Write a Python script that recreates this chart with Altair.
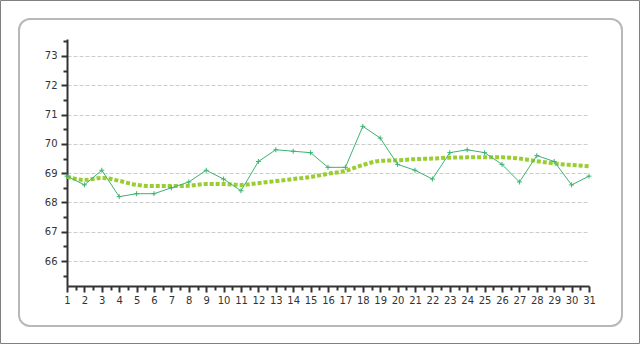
import altair as alt
import pandas as pd

days = list(range(1, 32))
values = [68.9, 68.6, 69.1, 68.2, 68.3, 68.3, 68.5, 68.7, 69.1, 68.8, 68.4, 69.4,
          69.8, 69.75, 69.7, 69.2, 69.2, 70.6, 70.2, 69.3, 69.1, 68.8, 69.7, 69.8,
          69.7, 69.3, 68.7, 69.6, 69.4, 68.6, 68.9]
trend = [68.88, 68.77, 68.84, 68.74, 68.6, 68.56, 68.56, 68.57, 68.63, 68.63, 68.6,
         68.66, 68.73, 68.8, 68.87, 68.98, 69.08, 69.28, 69.42, 69.44, 69.48, 69.5,
         69.53, 69.54, 69.54, 69.54, 69.5, 69.41, 69.33, 69.28, 69.24]
x_ticks = [1 + 0.5 * i for i in range(61)]
y_ticks = [65.5 + 0.5 * i for i in range(17)]

df = pd.DataFrame({"day": days, "value": values, "trend": trend})

FONT = "DejaVu Sans"
AX = "#333333"
major = "datum.value % 1 === 0"
lab = "datum.value % 1 === 0 ? format(datum.value, 'd') : ''"

x_scale = alt.Scale(domain=[1, 31], nice=False, zero=False)
y_scale = alt.Scale(domain=[65.15, 73.58], nice=False, zero=False)

x_axis = alt.Axis(
    values=x_ticks, tickCount=len(x_ticks) + 5, title=None, grid=False,
    labelExpr=lab,
    labelOverlap=False, labelFlush=False, labelFont=FONT, labelFontSize=10,
    labelColor=AX, labelPadding=3,
    domainColor=AX, domainWidth=2, tickColor=AX, tickWidth=2,
    tickSize={"condition": {"test": major, "value": 6}, "value": 4},
)
y_axis = alt.Axis(
    values=y_ticks, tickCount=len(y_ticks) + 5, title=None,
    labelExpr=lab,
    labelOverlap=False, labelFlush=False, labelFont=FONT, labelFontSize=10,
    labelColor=AX, labelPadding=4,
    domainColor=AX, domainWidth=2, tickColor=AX, tickWidth=2,
    tickSize={"condition": {"test": major, "value": 6}, "value": 4},
    grid=True, gridColor="#cccccc", gridDash=[4, 2], gridWidth=1,
    gridOpacity={"condition": {"test": major, "value": 1}, "value": 0},
)

one = pd.DataFrame({"a": [0]})
outer = alt.Chart(one).mark_rect(fillOpacity=0, stroke="#808080", strokeWidth=1).encode(
    x=alt.value(-66.5), x2=alt.value(572.5), y=alt.value(-38.5), y2=alt.value(304.5))
inner = alt.Chart(one).mark_rect(fillOpacity=0, stroke="#b8b8b8", strokeWidth=2,
                                 cornerRadius=11).encode(
    x=alt.value(-48), x2=alt.value(555), y=alt.value(-20), y2=alt.value(287))

base = alt.Chart(df)
trend_line = base.mark_line(color="#9acd32", strokeWidth=4, strokeDash=[4, 2],
                            strokeCap="butt", interpolate="monotone").encode(
    x=alt.X("day:Q", scale=x_scale, axis=x_axis),
    y=alt.Y("trend:Q", scale=y_scale, axis=y_axis),
)
line = base.mark_line(color="#3cb371", strokeWidth=1).encode(
    x=alt.X("day:Q", scale=x_scale),
    y=alt.Y("value:Q", scale=y_scale),
)
pts = base.mark_point(shape="M-1,0H1M0,-1V1", filled=False, color="#3cb371",
                      strokeWidth=1, size=25, opacity=1).encode(
    x=alt.X("day:Q", scale=x_scale),
    y=alt.Y("value:Q", scale=y_scale),
)

chart = alt.layer(trend_line, line, pts, outer, inner).properties(
    width=522, height=247,
    autosize=alt.AutoSizeParams(type="none"),
    padding={"left": 67, "top": 39, "right": 51, "bottom": 58},
    background="white",
).configure_view(stroke=None)

chart.save("out.html", embed_options={"renderer": "svg", "actions": False})
